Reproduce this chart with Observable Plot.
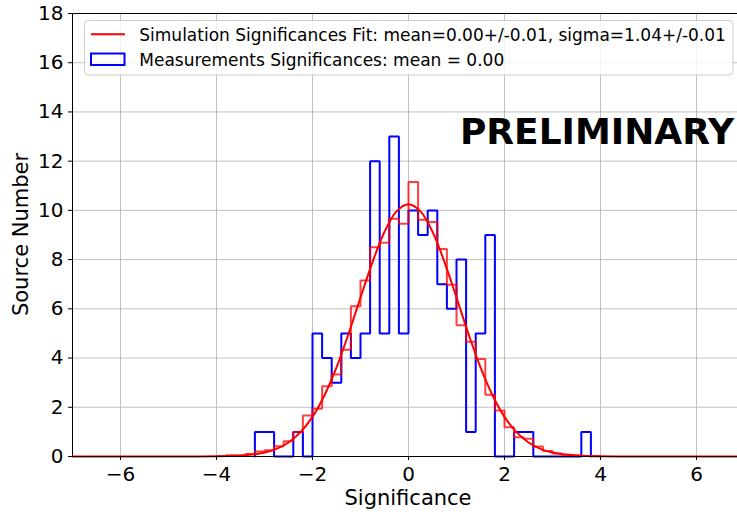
<!DOCTYPE html>
<html><head><meta charset="utf-8">
<script src="https://cdn.jsdelivr.net/npm/d3@7"></script>
<script src="https://cdn.jsdelivr.net/npm/@observablehq/plot@0.6"></script>
<style>body{margin:0;background:#fff} svg{display:block;font-family:"DejaVu Sans",sans-serif}</style>
</head><body><div id="chart"></div>
<script>
// Measurement significance histogram (bin width 0.2)
const binWidth = 0.2;
const measBinStart = [-3.2,-3.0,-2.8,-2.6,-2.4,-2.2,-2.0,-1.8,-1.6,-1.4,-1.2,-1.0,-0.8,-0.6,-0.4,-0.2,0.0,0.2,0.4,0.6,0.8,1.0,1.2,1.4,1.6,1.8,2.0,2.2,2.4,2.6,2.8,3.0,3.2,3.4,3.6];
const measCounts   = [1,1,0,0,1,0,5,4,3,5,4,5,12,5,13,5,10,9,10,7,6,8,1,5,9,0,0,1,1,0,0,0,0,0,1];
// Simulation significance histogram (scaled)
const simBinStart = [-4.0,-3.8,-3.6,-3.4,-3.2,-3.0,-2.8,-2.6,-2.4,-2.2,-2.0,-1.8,-1.6,-1.4,-1.2,-1.0,-0.8,-0.6,-0.4,-0.2,0.0,0.2,0.4,0.6,0.8,1.0,1.2,1.4,1.6,1.8,2.0,2.2,2.4,2.6,2.8,3.0,3.2,3.4,3.6,3.8];
const simCounts   = [0.02,0.05,0.04,0.1,0.2,0.25,0.42,0.62,1.0,1.67,1.94,2.85,3.33,4.34,6.1,7.15,8.5,8.69,9.66,9.46,11.15,9.62,9.53,8.43,6.98,5.33,4.66,3.96,2.51,1.87,1.19,0.78,0.72,0.41,0.22,0.12,0.07,0.04,0.02,0.01];
// Gaussian fit curve
const fitX = [-7,-5,-4.5,-4,-3.5,-3.25,-3,-2.75,-2.5,-2.25,-2,-1.75,-1.5,-1.25,-1,-0.75,-0.5,-0.25,0,0.25,0.5,0.75,1,1.25,1.5,1.75,2,2.25,2.5,2.75,3,3.25,3.5,4,4.5,5,7];
const fitY = [0,0,0.001,0.006,0.036,0.078,0.16,0.31,0.57,0.99,1.61,2.49,3.62,4.98,6.46,7.90,9.13,9.96,10.25,9.96,9.13,7.90,6.46,4.98,3.62,2.49,1.61,0.99,0.57,0.31,0.16,0.078,0.036,0.006,0.001,0,0];
const xTicks = [-6,-4,-2,0,2,4,6];
const yTicks = [0,2,4,6,8,10,12,14,16,18];
const fitLabel = "Simulation Significances Fit: mean=0.00+/-0.01, sigma=1.04+/-0.01";
const measLabel = "Measurements Significances: mean = 0.00";

function steps(starts, counts, w) {
  const pts = [{x: starts[0], y: 0}];
  starts.forEach((s, i) => { pts.push({x: s, y: counts[i]}); pts.push({x: s + w, y: counts[i]}); });
  pts.push({x: starts[starts.length - 1] + w, y: 0});
  return pts;
}
const measSteps = steps(measBinStart, measCounts, binWidth);
const simSteps = steps(simBinStart, simCounts, binWidth);
const fit = fitX.map((x, i) => ({x, y: fitY[i]}));

const W = 737, H = 514;
const chart = Plot.plot({
  width: W, height: H,
  marginLeft: 72, marginRight: 0, marginTop: 13, marginBottom: 58,
  style: {fontFamily: "DejaVu Sans", background: "#fff"},
  x: {domain: [-7, 6.854]},
  y: {domain: [0, 18]},
  marks: [
    Plot.gridX(xTicks, {stroke: "#b0b0b0", strokeOpacity: 1, strokeWidth: 0.8}),
    Plot.gridY(yTicks, {stroke: "#b0b0b0", strokeOpacity: 1, strokeWidth: 0.8}),
    Plot.line(measSteps, {x: "x", y: "y", stroke: "blue", strokeWidth: 2, strokeLinejoin: "miter"}),
    Plot.line(simSteps, {x: "x", y: "y", stroke: "red", strokeOpacity: 0.75, strokeWidth: 2, strokeLinejoin: "miter"}),
    Plot.line(fit, {x: "x", y: "y", stroke: "red", strokeWidth: 2, curve: "catmull-rom"}),
    Plot.ruleY([0, 18], {stroke: "black", strokeWidth: 1}),
    Plot.ruleX([-7], {stroke: "black", strokeWidth: 1}),
    Plot.axisX(xTicks, {tickSize: 4, tickPadding: 6, fontSize: 20, label: null, stroke: "black"}),
    Plot.axisY(yTicks, {tickSize: 4, tickPadding: 5, fontSize: 20, label: null, stroke: "black"})
  ]
});
document.getElementById("chart").appendChild(chart);

const svg = d3.select(chart);
svg.append("text").attr("x", 408).attr("y", 505).attr("text-anchor", "middle")
  .attr("font-size", 21).attr("fill", "black").text("Significance");
svg.append("text").attr("transform", "translate(28,234.5) rotate(-90)").attr("text-anchor", "middle")
  .attr("font-size", 21).attr("fill", "black").text("Source Number");
svg.append("text").attr("x", 734).attr("y", 144).attr("text-anchor", "end")
  .attr("font-size", 36).attr("font-weight", "bold").attr("fill", "black").text("PRELIMINARY");

const lg = svg.append("g");
lg.append("rect").attr("x", 84.5).attr("y", 20.5).attr("width", 648.5).attr("height", 54.5).attr("rx", 4)
  .attr("fill", "white").attr("fill-opacity", 0.8).attr("stroke", "#cccccc").attr("stroke-width", 1);
lg.append("line").attr("x1", 91).attr("x2", 125).attr("y1", 34.3).attr("y2", 34.3).attr("stroke", "red").attr("stroke-width", 2);
lg.append("rect").attr("x", 91).attr("y", 53.5).attr("width", 33.5).attr("height", 11.5)
  .attr("fill", "none").attr("stroke", "blue").attr("stroke-width", 2);
lg.append("text").attr("x", 139.3).attr("y", 40.5).attr("text-anchor", "start").attr("font-size", 17).attr("fill", "black").text(fitLabel);
lg.append("text").attr("x", 139.3).attr("y", 65.5).attr("text-anchor", "start").attr("font-size", 17).attr("fill", "black").text(measLabel);
</script></body></html>
